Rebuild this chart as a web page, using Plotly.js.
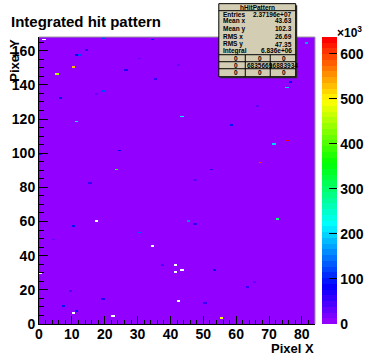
<!DOCTYPE html>
<html><head><meta charset="utf-8">
<script src="https://cdn.plot.ly/plotly-3.0.1.min.js"></script>
<style>html,body{margin:0;padding:0;background:#fff}#chart{width:369px;height:353px}</style>
</head><body><div id="chart"></div>
<script>
// ---- data ----
const nBinsX = 84;
const nBinsY = 168;
const baseCount = 20;            // ordinary (purple) pixels
const hotX = [19,14,11,12,10,5,26,19,17,6,11,24,23,0,34,30,42,35,43,52,47,81,76,75,66,58,75,71,67,15,10,4,9,19,7,11,45,47,30,37,53,50,55,72,65,63];
const hotY = [167,160,157,157,150,146,148,136,134,132,118,101,90,99,166,155,151,143,121,90,84,164,141,138,127,116,107,105,94,82,57,49,19,14,10,7,60,58,53,34,31,12,3,61,24,21];
const hotZ = [125000,55000,80000,120000,525000,450000,70000,120000,30000,95000,210000,80000,375000,90000,90000,30000,30000,55000,205000,55000,30000,175000,85000,195000,35000,95000,625000,200000,600000,55000,100000,35000,40000,65000,100000,90000,155000,55000,130000,45000,100000,55000,495000,300000,35000,55000];
const deadX = [1,17,0,10,22,34,41,43,41,42];
const deadY = [166,60,29,6,4,45,34,31,30,13];
const zMax = 637000;
const cbTickVals = [0,100000,200000,300000,400000,500000,600000];
const cbTickText = ['0','100','200','300','400','500','600'];
const statLabels = ['Entries','Mean x','Mean y','RMS x','RMS y','Integral'];
const statValues = ['2.37196e+07','43.63','102.3','26.69','47.35','6.836e+06'];
const tableCells = [['0','0','0'],['0','6835669','16883934'],['0','0','0']];

// ---- build grid ----
const z = [];
for (let j = 0; j < nBinsY; j++) { const row = []; for (let i = 0; i < nBinsX; i++) row.push(baseCount); z.push(row); }
hotX.forEach((x, k) => { z[hotY[k]][x] = hotZ[k]; });
deadX.forEach((x, k) => { z[deadY[k]][x] = null; });

// ROOT "pretty" palette: 50 colours, hue 280 -> 0
function hsl2rgb(h) {
  const c = 1, x = 1 - Math.abs((h / 60) % 2 - 1);
  let r=0,g=0,b=0;
  if (h < 60) {r=c;g=x;} else if (h < 120) {r=x;g=c;} else if (h < 180) {g=c;b=x;}
  else if (h < 240) {g=x;b=c;} else if (h < 300) {r=x;b=c;} else {r=c;b=x;}
  return 'rgb(' + Math.round(r*255) + ',' + Math.round(g*255) + ',' + Math.round(b*255) + ')';
}
const NC = 50, scale = [];
for (let i = 0; i < NC; i++) {
  const col = hsl2rgb(Math.max(0, 280 - (i + 1) * 280 / NC));
  scale.push([i / NC, col]); scale.push([(i + 1) / NC, col]);
}

// pixel helpers
const L = 39, R = 315.3, T = 37.3, B = 324;
const px = v => (v - L) / (R - L);
const py = v => (B - v) / (B - T);
const FF = '"Liberation Sans", Arial, sans-serif';
const bold = (s) => ({family: FF, size: s, color: '#000', weight: 'bold'});

const shapes = [
  {type:'line', xref:'paper', yref:'paper', x0:0, x1:1, y0:1, y1:1, line:{color:'#9a9a9a', width:1}},
  {type:'line', xref:'paper', yref:'paper', x0:1, x1:1, y0:0, y1:1, line:{color:'#9a9a9a', width:1}},
  // stats box shadow + box
  {type:'rect', xref:'paper', yref:'paper', x0:px(220.5), x1:px(297.5), y0:py(78.5), y1:py(5.5), fillcolor:'#333', line:{width:0}},
  {type:'rect', xref:'paper', yref:'paper', x0:px(219), x1:px(296), y0:py(77), y1:py(4), fillcolor:'#d3cdb3', line:{color:'#000', width:1}},
  {type:'line', xref:'paper', yref:'paper', x0:px(219), x1:px(296), y0:py(11), y1:py(11), line:{color:'#000', width:1}},
  {type:'line', xref:'paper', yref:'paper', x0:px(219), x1:px(296), y0:py(55), y1:py(55), line:{color:'#000', width:1}},
  {type:'line', xref:'paper', yref:'paper', x0:px(219), x1:px(296), y0:py(62), y1:py(62), line:{color:'#000', width:1}},
  {type:'line', xref:'paper', yref:'paper', x0:px(219), x1:px(296), y0:py(69), y1:py(69), line:{color:'#000', width:1}},
  {type:'line', xref:'paper', yref:'paper', x0:px(245.5), x1:px(245.5), y0:py(55), y1:py(77), line:{color:'#000', width:1}},
  {type:'line', xref:'paper', yref:'paper', x0:px(270.5), x1:px(270.5), y0:py(55), y1:py(77), line:{color:'#000', width:1}}
];

const ann = [];
const A = (text, x, y, xa, font, extra) => ann.push(Object.assign({text, x:px(x), y:py(y), xref:'paper', yref:'paper', xanchor:xa, yanchor:'middle', showarrow:false, font, borderpad:0}, extra||{}));
A('Integrated hit pattern', 10, 22, 'left', bold(15));
A('Pixel X', 315, 348, 'right', bold(13));
A('Pixel Y', 15, 61, 'center', bold(13), {textangle:-90});
A('×10<sup>3</sup>', 350, 32, 'center', bold(12));
A('hHitPattern', 257.5, 7.5, 'center', bold(6.5));
const rowY = [15, 21, 29, 36.7, 44.3, 51];
statLabels.forEach((s, k) => { A(s, 222.5, rowY[k], 'left', bold(6.5)); A(statValues[k], 293, rowY[k], 'right', bold(6.5)); });
const tRowY = [58.7, 65.5, 73];
const tColX = [236, 260, 284];
tableCells.forEach((r, k) => r.forEach((c, m) => A(c, tColX[m], tRowY[k], 'center', bold(6.5))));

const trace = {
  type:'heatmap', z, x0:0.5, dx:1, y0:0.5, dy:1, zmin:0, zmax:zMax, zsmooth:false,
  colorscale:scale, hoverinfo:'skip',
  colorbar:{x:px(322), xanchor:'left', xref:'paper', y:0, yanchor:'bottom', len:1, lenmode:'fraction',
    thickness:15, thicknessmode:'pixels', xpad:0, ypad:0, outlinewidth:0,
    tickmode:'array', tickvals:cbTickVals, ticktext:cbTickText, ticks:'inside', ticklen:8, tickcolor:'#000', tickwidth:1,
    tickfont:bold(14)}
};

const layout = {
  width:369, height:353, margin:{l:L, r:369-R, t:T, b:353-B, pad:0, autoexpand:false},
  paper_bgcolor:'#fff', plot_bgcolor:'#fff', showlegend:false,
  xaxis:{range:[0,nBinsX], tickmode:'linear', tick0:0, dtick:10, ticks:'inside', ticklen:8, tickcolor:'#000', tickwidth:1,
    minor:{tick0:0, dtick:2, ticks:'inside', ticklen:4, tickcolor:'#000', tickwidth:1, showgrid:false},
    ticklabelstandoff:-3,
    showline:true, linecolor:'#000', linewidth:1, showgrid:false, zeroline:false, tickfont:bold(14), fixedrange:true, automargin:false},
  yaxis:{range:[0,nBinsY], tickmode:'linear', tick0:0, dtick:20, ticks:'inside', ticklen:9, tickcolor:'#000', tickwidth:1,
    minor:{tick0:0, dtick:5, ticks:'inside', ticklen:5, tickcolor:'#000', tickwidth:1, showgrid:false},
    showline:true, linecolor:'#000', linewidth:1, showgrid:false, zeroline:false, tickfont:bold(14), fixedrange:true, automargin:false},
  shapes, annotations:ann
};
Plotly.newPlot('chart', [trace], layout, {staticPlot:true, displayModeBar:false});
</script></body></html>
